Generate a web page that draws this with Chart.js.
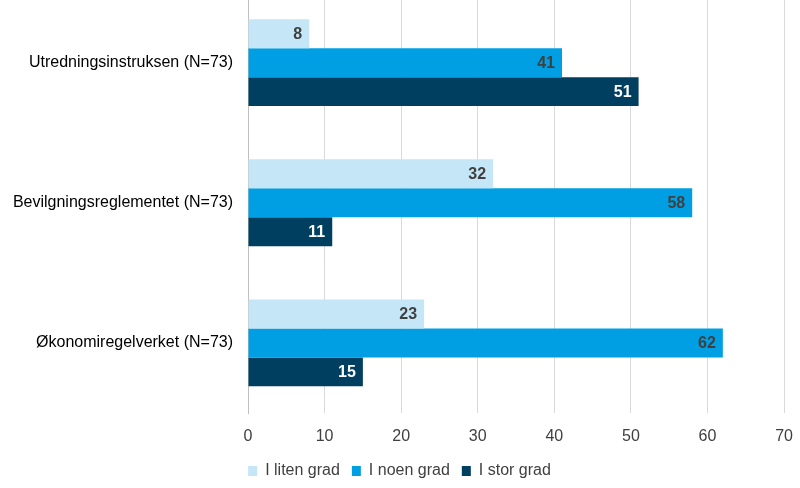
<!DOCTYPE html>
<html>
<head>
<meta charset="utf-8">
<script src="https://cdn.jsdelivr.net/npm/chart.js@4/dist/chart.umd.min.js"></script>
<style>
  html, body { margin: 0; padding: 0; background: #fff; overflow: hidden; }
  #wrap { position: absolute; left: 0; top: -32px; width: 807px; height: 524px; }
</style>
</head>
<body>
<div id="wrap"><canvas id="myChart"></canvas></div>
<script>
var categories = ['Utredningsinstruksen (N=73)', 'Bevilgningsreglementet (N=73)', 'Økonomiregelverket (N=73)'];
var seriesNames = ['I liten grad', 'I noen grad', 'I stor grad'];
var litenGrad = [8, 32, 23];
var noenGrad = [41, 58, 62];
var storGrad = [51, 11, 15];
var xTicks = [0, 10, 20, 30, 40, 50, 60, 70];

var barColors = ['#c5e6f6', '#009fe3', '#003f5f'];
var labelColors = ['#404040', '#404040', '#ffffff'];

// draws the value at the end of each bar, inside it
var barLabels = {
  id: 'barLabels',
  afterDatasetsDraw: function(chart) {
    var ctx = chart.ctx;
    ctx.save();
    ctx.font = 'bold 16px "Liberation Sans", Arial, sans-serif';
    ctx.textAlign = 'right';
    ctx.textBaseline = 'middle';
    chart.data.datasets.forEach(function(ds, i) {
      var meta = chart.getDatasetMeta(i);
      ctx.fillStyle = labelColors[i];
      meta.data.forEach(function(bar, j) {
        ctx.fillText(ds.data[j], bar.x - 7, bar.y + 1);
      });
    });
    ctx.restore();
  }
};

var ctx = document.getElementById('myChart').getContext('2d');

var myChart = new Chart(ctx, {
  type: 'bar',
  data: {
    labels: categories,
    datasets: [
      { label: seriesNames[0], data: litenGrad, backgroundColor: barColors[0] },
      { label: seriesNames[1], data: noenGrad, backgroundColor: barColors[1] },
      { label: seriesNames[2], data: storGrad, backgroundColor: barColors[2] }
    ]
  },
  options: {
    indexAxis: 'y',
    responsive: true,
    maintainAspectRatio: false,
    animation: false,
    layout: { padding: { left: 0, right: 8, top: 0, bottom: 3 } },
    datasets: {
      bar: { categoryPercentage: 0.62, barPercentage: 1.0 }
    },
    scales: {
      x: {
        min: 0,
        max: 70,
        afterBuildTicks: function(scale) {
          scale.ticks = xTicks.map(function(v) { return { value: v }; });
        },
        afterFit: function(scale) { scale.height = 38; },
        grid: { color: '#d9d9d9', drawTicks: false },
        border: { display: false },
        ticks: {
          padding: 14,
          color: '#404040',
          font: { family: '"Liberation Sans", Arial, sans-serif', size: 16 }
        }
      },
      y: {
        afterFit: function(scale) { scale.width = 248; },
        grid: { display: false, drawTicks: false },
        border: { display: true, color: '#bfbfbf' },
        ticks: {
          padding: 15,
          color: '#000000',
          font: { family: '"Liberation Sans", Arial, sans-serif', size: 16 }
        }
      }
    },
    plugins: {
      tooltip: { enabled: false },
      legend: {
        position: 'bottom',
        labels: {
          boxWidth: 9,
          boxHeight: 10,
          padding: 12,
          color: '#404040',
          font: { family: '"Liberation Sans", Arial, sans-serif', size: 16 }
        }
      }
    }
  },
  plugins: [barLabels]
});
</script>
</body>
</html>
